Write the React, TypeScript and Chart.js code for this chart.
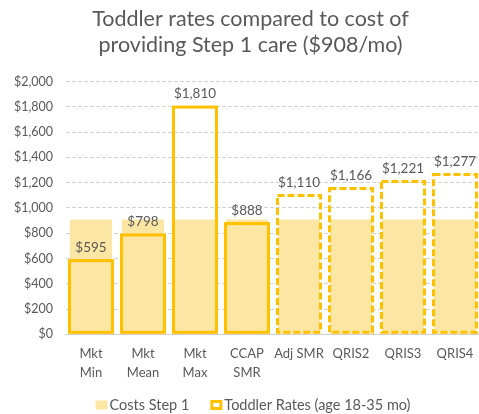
import React, { useEffect, useRef } from "react";
import { Chart, registerables } from "chart.js";

Chart.register(...registerables);

const categories: (string | string[])[] = [
  ["Mkt", "Min"],
  ["Mkt", "Mean"],
  ["Mkt", "Max"],
  ["CCAP", "SMR"],
  "Adj SMR",
  "QRIS2",
  "QRIS3",
  "QRIS4",
];
const costsStep1 = [908, 908, 908, 908, 908, 908, 908, 908];
const toddlerRates = [595, 798, 1810, 888, 1110, 1166, 1221, 1277];
const dashedFrom = 4; // bars from this index use dashed outlines
const titleLines = ["Toddler rates compared to cost of", "providing Step 1 care ($908/mo)"];
const legendLabels = ["Costs Step 1", "Toddler Rates (age 18-35 mo)"];

const FONT = "Lato, 'Open Sans', sans-serif";
const GOLD = "#FFC000";
const LIGHT = "#FCE6A3";
const TEXT = "#595959";

const fmt = (v: number) => "$" + v.toLocaleString("en-US");

const outlinePlugin = {
  id: "outlineAndLabels",
  afterLayout(chart: any) {
    // the original image is a crop of a wider chart: centre the title accordingly
    const tb = chart.titleBlock;
    if (tb) {
      tb.left += 10;
      tb.right += 10;
    }
  },
  afterDatasetsDraw(chart: any) {
    const meta = chart.getDatasetMeta(1);
    const ctx = chart.ctx;
    ctx.save();
    meta.data.forEach((el: any, i: number) => {
      const { x, y, base, width } = el.getProps(["x", "y", "base", "width"], true);
      const lw = 3;
      ctx.lineWidth = lw;
      ctx.strokeStyle = GOLD;
      ctx.setLineDash(i >= dashedFrom ? [7, 3] : []);
      ctx.strokeRect(x - width / 2 + lw / 2, y + lw / 2, width - lw, base - y - lw);
      ctx.setLineDash([]);
      ctx.fillStyle = TEXT;
      ctx.font = `13.5px ${FONT}`;
      ctx.textAlign = "center";
      ctx.textBaseline = "bottom";
      ctx.fillText(fmt(toddlerRates[i]), x, y - 5);
    });
    ctx.restore();
  },
  afterDraw(chart: any) {
    // legend (drawn by hand to match the original's spacing)
    const ctx = chart.ctx;
    ctx.save();
    ctx.font = `14.5px ${FONT}`;
    ctx.textBaseline = "middle";
    ctx.textAlign = "left";
    const box = 12;
    const gap = 2;
    const itemGap = 21;
    const w0 = ctx.measureText(legendLabels[0]).width;
    const w1 = ctx.measureText(legendLabels[1]).width;
    const total = box + gap + w0 + itemGap + box + gap + w1;
    const cy = 405;
    let x = 253 - total / 2;
    ctx.fillStyle = LIGHT;
    ctx.fillRect(x, cy - 4.5, box, 9);
    x += box + gap;
    ctx.fillStyle = TEXT;
    ctx.fillText(legendLabels[0], x, cy);
    x += w0 + itemGap;
    ctx.fillStyle = "#ffffff";
    ctx.fillRect(x, cy - 5, box, 10);
    ctx.strokeStyle = GOLD;
    ctx.lineWidth = 3;
    ctx.strokeRect(x + 1.5, cy - 3.5, box - 3, 7);
    x += box + gap;
    ctx.fillStyle = TEXT;
    ctx.fillText(legendLabels[1], x, cy);
    ctx.restore();
  },
};

export default function App() {
  const ref = useRef<HTMLCanvasElement>(null);
  useEffect(() => {
    document.body.style.margin = "0";
    const chart = new Chart(ref.current!, {
      type: "bar",
      data: {
        labels: categories,
        datasets: [
          {
            label: legendLabels[0],
            data: costsStep1,
            backgroundColor: LIGHT,
            borderWidth: 0,
            barPercentage: 0.81,
            categoryPercentage: 1,
            grouped: false,
            order: 2,
          },
          {
            label: legendLabels[1],
            data: toddlerRates,
            backgroundColor: "rgba(0,0,0,0)",
            borderWidth: 0,
            barPercentage: 0.885,
            categoryPercentage: 1,
            grouped: false,
            order: 1,
          },
        ],
      },
      options: {
        animation: false,
        responsive: false,
        maintainAspectRatio: false,
        layout: { padding: { left: 0, right: 19, top: 4, bottom: 22 } },
        plugins: {
          tooltip: { enabled: false },
          legend: { display: false },
          title: {
            display: true,
            text: titleLines,
            color: TEXT,
            font: { family: FONT, size: 21.5, weight: "normal" },
            lineHeight: 1.35,
            padding: { top: 2, bottom: 24 },
          },
        },
        scales: {
          x: {
            grid: { display: false, drawTicks: false },
            border: { display: true, color: "#D0D0D0" },
            ticks: {
              color: TEXT,
              font: { family: FONT, size: 13, lineHeight: 1.45 },
              maxRotation: 0,
              autoSkip: false,
              padding: 10,
            },
          },
          y: {
            min: 0,
            max: 2000,
            ticks: {
              stepSize: 200,
              color: TEXT,
              font: { family: FONT, size: 12.5 },
              padding: 12,
              callback: (v: any) => fmt(Number(v)),
            },
            grid: { color: "#D3D3D3", drawTicks: false },
            border: { display: true, color: "rgba(0,0,0,0)", dash: [4, 2] },
            afterFit: (s: any) => {
              s.width = 65;
            },
          },
        },
      },
      plugins: [outlinePlugin],
    });
    return () => chart.destroy();
  }, []);
  return (
    <div style={{ position: "fixed", left: 0, top: 0, width: 479, height: 414, overflow: "hidden", background: "#fff" }}>
      <canvas ref={ref} width={500} height={414} style={{ width: 500, height: 414, display: "block" }} />
    </div>
  );
}
